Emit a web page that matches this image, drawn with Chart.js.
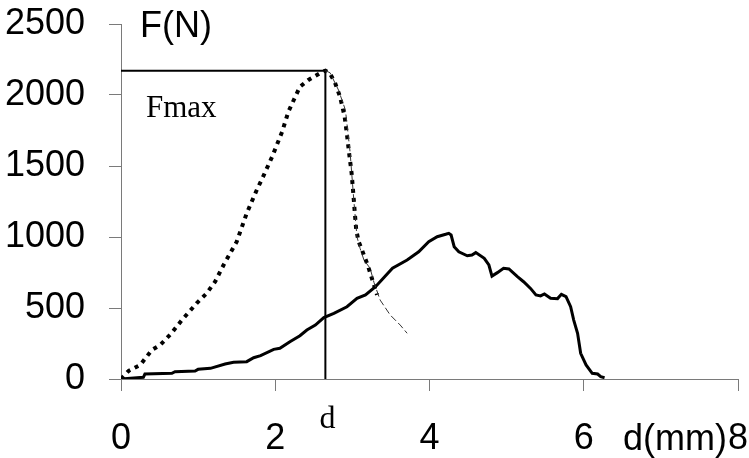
<!DOCTYPE html>
<html>
<head>
<meta charset="utf-8">
<script src="https://cdn.jsdelivr.net/npm/chart.js@4.4.0/dist/chart.umd.min.js"></script>
<style>
  html, body { margin: 0; padding: 0; background: #fff; }
  canvas { display: block; }
</style>
</head>
<body>
<canvas id="forceChart" width="749" height="458"></canvas>
<script>
// thick dotted curve: sharp rise to the peak, then fast drop
const dispDotted = [0, 0.05, 0.10, 0.25, 0.40, 0.51, 0.65, 0.79, 0.98, 1.11, 1.22, 1.33, 1.50, 1.63, 1.76, 1.83,
  1.96, 2.09, 2.17, 2.24, 2.32, 2.43, 2.54, 2.61, 2.65, 2.71, 2.77, 2.84, 2.90, 2.93, 2.96, 2.99, 3.01, 3.03,
  3.05, 3.08, 3.12, 3.20, 3.26, 3.32];
const forceDotted = [0, 30, 58, 99, 204, 240, 320, 415, 533, 603, 685, 803, 967, 1167, 1331, 1410,
  1566, 1742, 1882, 1965, 2058, 2106, 2141, 2164, 2171, 2150, 2094, 1988, 1847, 1720, 1580, 1450, 1320, 1180,
  1050, 970, 915, 800, 697, 592];

// thin dashed tail after the peak
const dispTail = [2.65, 2.71, 2.82, 2.91, 2.97, 3.02, 3.06, 3.10, 3.15, 3.23, 3.28, 3.36, 3.49, 3.62, 3.71];
const forceTail = [2171, 2157, 2035, 1894, 1600, 1250, 1000, 920, 838, 780, 680, 556, 451, 380, 322];

// solid curve: slow rise, peak near 4.25 mm, drop after 5.8 mm
const dispSolid = [0, 0.29, 0.31, 0.66, 0.70, 0.96, 1.00, 1.16, 1.35, 1.46, 1.63, 1.72, 1.81, 1.98, 2.06, 2.19,
  2.32, 2.41, 2.52, 2.63, 2.76, 2.93, 3.06, 3.17, 3.30, 3.52, 3.71, 3.86, 3.99, 4.10, 4.21, 4.25, 4.28, 4.32,
  4.38, 4.49, 4.55, 4.60, 4.71, 4.77, 4.81, 4.88, 4.96, 5.03, 5.14, 5.22, 5.31, 5.38, 5.44, 5.49, 5.57, 5.66,
  5.71, 5.77, 5.83, 5.87, 5.92, 5.96, 6.03, 6.11, 6.18, 6.22, 6.27];
const forceSolid = [0, 12, 35, 40, 51, 56, 68, 75, 106, 118, 122, 150, 164, 209, 216, 263,
  305, 345, 380, 432, 462, 509, 568, 592, 650, 780, 838, 896, 967, 1002, 1019, 1026, 1014, 932,
  896, 868, 873, 890, 850, 803, 725, 749, 780, 775, 721, 685, 638, 592, 585, 599, 568, 566,
  596, 580, 509, 415, 322, 181, 99, 40, 35, 16, 9];

// peak force and its displacement (Fmax guide lines)
const fMax = 2170;
const dAtFMax = 2.65;

const xTicks = [0, 2, 4, 6, 8];
const yTicks = [0, 500, 1000, 1500, 2000, 2500];

const yAxisTitle = 'F(N)';
const xAxisTitle = 'd(mm)';
const peakLabel = 'Fmax';
const dLabel = 'd';

function toPoints(xs, ys) {
  return xs.map((x, i) => ({ x: x, y: ys[i] }));
}

const sansFont = "'Liberation Sans', Arial, sans-serif";
const serifFont = "'Liberation Serif', 'Times New Roman', serif";
const axisGray = '#7a7a7a';

// text that is not tied to a tick
const annotations = {
  id: 'annotations',
  afterDraw(chart) {
    const c = chart.ctx;
    const xs = chart.scales.x;
    c.save();
    c.fillStyle = '#000';
    c.textBaseline = 'alphabetic';

    c.font = '36px ' + sansFont;
    c.textAlign = 'left';
    c.fillText(yAxisTitle, 140, 37);

    c.textAlign = 'right';
    c.fillText(xAxisTitle, 727, 450);

    c.font = '31px ' + serifFont;
    c.textAlign = 'left';
    c.fillText(peakLabel, 146, 117);

    c.font = '32px ' + serifFont;
    c.textAlign = 'center';
    c.fillText(dLabel, xs.getPixelForValue(dAtFMax) + 2, 428);
    c.restore();
  }
};

const ctx = document.getElementById('forceChart').getContext('2d');
new Chart(ctx, {
  type: 'line',
  data: {
    datasets: [
      {
        data: toPoints(dispTail, forceTail),
        borderColor: '#333',
        borderWidth: 1,
        borderDash: [7, 3]
      },
      {
        data: toPoints(dispDotted, forceDotted),
        borderColor: '#000',
        borderWidth: 4,
        borderDash: [4, 5]
      },
      {
        data: toPoints(dispSolid, forceSolid),
        borderColor: '#000',
        borderWidth: 3
      },
      {
        data: toPoints([0, dAtFMax], [fMax, fMax]),
        borderColor: '#000',
        borderWidth: 2
      },
      {
        data: toPoints([dAtFMax, dAtFMax], [0, fMax]),
        borderColor: '#000',
        borderWidth: 2
      }
    ]
  },
  options: {
    responsive: false,
    animation: false,
    layout: { padding: { top: 24, right: 11, left: 0, bottom: 0 } },
    elements: {
      point: { radius: 0 },
      line: { tension: 0, fill: false, borderCapStyle: 'butt' }
    },
    plugins: {
      legend: { display: false },
      tooltip: { enabled: false }
    },
    scales: {
      x: {
        type: 'linear',
        min: 0,
        max: 8,
        afterFit(scale) {
          scale.height = 79;
          scale.paddingLeft = 0;
          scale.paddingRight = 0;
        },
        afterBuildTicks(scale) { scale.ticks = xTicks.map(v => ({ value: v })); },
        border: { display: true, color: axisGray, width: 1 },
        grid: { drawOnChartArea: false, drawTicks: true, tickLength: 12, color: axisGray },
        ticks: {
          padding: 26,
          color: '#000',
          maxRotation: 0,
          font: { family: sansFont, size: 36 },
          callback: v => String(v)
        }
      },
      y: {
        type: 'linear',
        min: 0,
        max: 2500,
        afterFit(scale) {
          scale.width = 121;
          scale.paddingTop = 0;
          scale.paddingBottom = 0;
        },
        afterBuildTicks(scale) { scale.ticks = yTicks.map(v => ({ value: v })); },
        border: { display: true, color: axisGray, width: 1 },
        grid: { drawOnChartArea: false, drawTicks: true, tickLength: 12, color: axisGray },
        ticks: {
          padding: 24,
          color: '#000',
          font: { family: sansFont, size: 36 },
          callback: v => String(v)
        }
      }
    }
  },
  plugins: [annotations]
});
</script>
</body>
</html>
